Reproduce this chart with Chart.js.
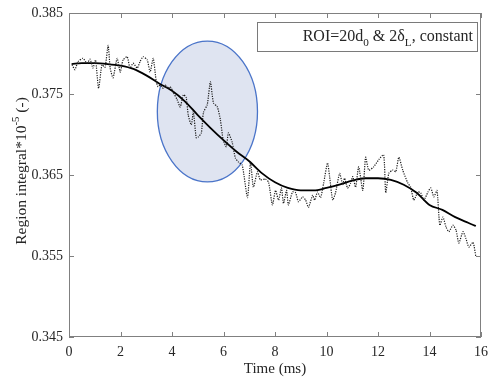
<!DOCTYPE html>
<html>
<head>
<meta charset="utf-8">
<script src="https://cdn.jsdelivr.net/npm/chart.js@4.4.1/dist/chart.umd.min.js"></script>
<style>
  html, body { margin: 0; padding: 0; background: #fff; }
</style>
</head>
<body>
<canvas id="roiChart" width="488" height="383"></canvas>
<script>
// raw (dotted) signal
const noisyTime = [0.12, 0.23, 0.35, 0.54, 0.70, 0.82, 0.93, 1.03, 1.15, 1.28, 1.40, 1.52, 1.60, 1.71, 1.87, 1.99,
  2.10, 2.26, 2.37, 2.49, 2.65, 2.76, 2.88, 3.04, 3.15, 3.27, 3.39, 3.46, 3.54, 3.66, 3.74, 3.85, 3.93, 4.05,
  4.20, 4.32, 4.44, 4.55, 4.63, 4.75, 4.83, 4.94, 5.02, 5.14, 5.22, 5.37, 5.49, 5.61, 5.76, 5.88, 5.99, 6.11,
  6.19, 6.34, 6.46, 6.58, 6.73, 6.93, 7.05, 7.16, 7.32, 7.43, 7.63, 7.75, 7.90, 8.02, 8.14, 8.25, 8.33, 8.45,
  8.52, 8.68, 8.80, 8.91, 9.07, 9.19, 9.30, 9.46, 9.54, 9.65, 9.77, 9.89, 10.04, 10.12, 10.24, 10.35, 10.51,
  10.63, 10.70, 10.82, 10.94, 11.02, 11.13, 11.25, 11.41, 11.52, 11.64, 11.83, 12.03, 12.22, 12.30, 12.42,
  12.57, 12.69, 12.81, 12.96, 13.16, 13.27, 13.39, 13.55, 13.66, 13.78, 13.94, 14.05, 14.17, 14.29, 14.40,
  14.52, 14.64, 14.75, 14.91, 15.03, 15.14, 15.30, 15.41, 15.53, 15.69, 15.80];
const noisyValue = [0.3786, 0.3780, 0.3790, 0.3794, 0.3788, 0.3793, 0.3782, 0.3792, 0.3757, 0.3786, 0.3783, 0.3810,
  0.3782, 0.3770, 0.3794, 0.3777, 0.3792, 0.3796, 0.3782, 0.3788, 0.3782, 0.3790, 0.3796, 0.3792, 0.3777,
  0.3794, 0.3765, 0.3759, 0.3761, 0.3757, 0.3761, 0.3757, 0.3759, 0.3752, 0.3743, 0.3734, 0.3749, 0.3746,
  0.3724, 0.3712, 0.3728, 0.3696, 0.3697, 0.3702, 0.3727, 0.3737, 0.3765, 0.3739, 0.3734, 0.3718, 0.3693,
  0.3685, 0.3702, 0.3690, 0.3671, 0.3666, 0.3662, 0.3622, 0.3666, 0.3635, 0.3654, 0.3644, 0.3645, 0.3641,
  0.3613, 0.3631, 0.3619, 0.3634, 0.3615, 0.3631, 0.3613, 0.3629, 0.3628, 0.3617, 0.3623, 0.3619, 0.3610,
  0.3625, 0.3619, 0.3629, 0.3622, 0.3640, 0.3665, 0.3648, 0.3619, 0.3628, 0.3652, 0.3638, 0.3646, 0.3634,
  0.3640, 0.3648, 0.3635, 0.3660, 0.3631, 0.3672, 0.3656, 0.3660, 0.3669, 0.3675, 0.3628, 0.3652, 0.3656,
  0.3654, 0.3672, 0.3656, 0.3640, 0.3635, 0.3619, 0.3629, 0.3628, 0.3619, 0.3629, 0.3634, 0.3623, 0.3631,
  0.3588, 0.3598, 0.3586, 0.3580, 0.3588, 0.3582, 0.3566, 0.3580, 0.3572, 0.3561, 0.3567, 0.3549];

// smoothed (solid) signal
const smoothTime = [0.1, 0.5, 1.0, 1.5, 2.0, 2.5, 3.0, 3.5, 4.0, 4.5, 5.0, 5.5, 6.0, 6.5, 7.0, 7.5, 8.0, 8.5,
  9.0, 9.5, 10.0, 10.5, 11.0, 11.5, 12.0, 12.5, 13.0, 13.5, 14.0, 14.5, 15.0, 15.5, 15.8];
const smoothValue = [0.3787, 0.3788, 0.3788, 0.3787, 0.3785, 0.3781, 0.3773, 0.3763, 0.3754, 0.3741, 0.3724,
  0.3708, 0.3693, 0.3679, 0.3667, 0.3652, 0.3641, 0.3634, 0.3631, 0.3631, 0.3634, 0.3638, 0.3643, 0.3646,
  0.3646, 0.3644, 0.3638, 0.3628, 0.3613, 0.3607, 0.3598, 0.3591, 0.3587];

const timeTicks = [0, 2, 4, 6, 8, 10, 12, 14, 16];
const valueTicks = [0.345, 0.355, 0.365, 0.375, 0.385];

// highlighted region (data units)
const roiRegion = { xMin: 3.43, xMax: 7.32, yMin: 0.36414, yMax: 0.38154 };

const SERIF = '"Liberation Serif", "Times New Roman", serif';
const INK = '#262626';
const AXIS = '#808080';

function drawRich(ctx, parts, x, y, size, align) {
  let w = 0;
  parts.forEach(p => {
    ctx.font = (p.sub || p.sup ? size * 0.7 : size) + 'px ' + SERIF;
    p.w = ctx.measureText(p.t).width;
    w += p.w;
  });
  let cx = align === 'right' ? x - w : align === 'center' ? x - w / 2 : x;
  ctx.textAlign = 'left';
  ctx.textBaseline = 'alphabetic';
  parts.forEach(p => {
    ctx.font = (p.sub || p.sup ? size * 0.7 : size) + 'px ' + SERIF;
    const dy = p.sub ? size * 0.3 : p.sup ? -size * 0.42 : 0;
    ctx.fillText(p.t, cx, y + dy);
    cx += p.w;
  });
}

const framePlugin = {
  id: 'frame',
  beforeDatasetsDraw(chart) {
    const { ctx } = chart;
    const xs = chart.scales.x, ys = chart.scales.y;
    const x0 = xs.getPixelForValue(roiRegion.xMin), x1 = xs.getPixelForValue(roiRegion.xMax);
    const y0 = ys.getPixelForValue(roiRegion.yMax), y1 = ys.getPixelForValue(roiRegion.yMin);
    ctx.save();
    ctx.beginPath();
    ctx.ellipse((x0 + x1) / 2, (y0 + y1) / 2, (x1 - x0) / 2, (y1 - y0) / 2, 0, 0, Math.PI * 2);
    ctx.fillStyle = '#dfe4f1';
    ctx.fill();
    ctx.strokeStyle = '#4a74c9';
    ctx.lineWidth = 1.3;
    ctx.stroke();
    ctx.restore();
  },
  afterDraw(chart) {
    const { ctx, chartArea: a } = chart;
    const xs = chart.scales.x, ys = chart.scales.y;
    ctx.save();
    // box
    ctx.strokeStyle = AXIS;
    ctx.lineWidth = 1;
    ctx.strokeRect(a.left + 0.5, a.top + 0.5, a.right - a.left - 1, a.bottom - a.top - 1);
    // inward ticks
    ctx.beginPath();
    timeTicks.forEach(t => {
      const px = Math.round(xs.getPixelForValue(t)) + 0.5;
      ctx.moveTo(px, a.bottom); ctx.lineTo(px, a.bottom - 5);
      ctx.moveTo(px, a.top); ctx.lineTo(px, a.top + 5);
    });
    valueTicks.forEach(v => {
      const py = Math.round(ys.getPixelForValue(v)) + 0.5;
      ctx.moveTo(a.left, py); ctx.lineTo(a.left + 5, py);
      ctx.moveTo(a.right, py); ctx.lineTo(a.right - 5, py);
    });
    ctx.stroke();

    // legend box
    const bx1 = a.right - 4, bx0 = bx1 - 220, by0 = a.top + 9, by1 = by0 + 29;
    ctx.fillStyle = '#fff';
    ctx.fillRect(bx0, by0, bx1 - bx0, by1 - by0);
    ctx.strokeStyle = '#7a7a7a';
    ctx.strokeRect(bx0 + 0.5, by0 + 0.5, bx1 - bx0, by1 - by0);
    ctx.fillStyle = INK;
    drawRich(ctx, [
      { t: 'ROI=20d' }, { t: '0', sub: true }, { t: ' & 2δ' }, { t: 'L', sub: true }, { t: ', constant' }
    ], bx1 - 4, by0 + 19, 16, 'right');

    // y axis title
    ctx.translate(21, (a.top + a.bottom) / 2 - 4);
    ctx.rotate(-Math.PI / 2);
    drawRich(ctx, [
      { t: 'Region integral*10' }, { t: '-5', sup: true }, { t: ' (-)' }
    ], 0, 5, 15.5, 'center');
    ctx.restore();
  }
};

const ctx = document.getElementById('roiChart').getContext('2d');
new Chart(ctx, {
  type: 'line',
  data: {
    datasets: [{
      label: 'raw',
      data: noisyTime.map((t, i) => ({ x: t, y: noisyValue[i] })),
      borderColor: '#1a1a1a',
      borderWidth: 1.2,
      borderDash: [1.2, 1.2],
      pointRadius: 0,
      tension: 0.2,
      fill: false
    }, {
      label: 'smoothed',
      data: smoothTime.map((t, i) => ({ x: t, y: smoothValue[i] })),
      borderColor: '#000',
      borderWidth: 1.8,
      pointRadius: 0,
      cubicInterpolationMode: 'monotone',
      fill: false
    }]
  },
  options: {
    responsive: false,
    animation: false,
    devicePixelRatio: 1,
    layout: { padding: { left: 0, right: 7, top: 13, bottom: 0 } },
    plugins: { legend: { display: false }, tooltip: { enabled: false } },
    scales: {
      x: {
        type: 'linear',
        min: 0,
        max: 16,
        afterBuildTicks: s => { s.ticks = timeTicks.map(v => ({ value: v })); },
        afterFit: s => { s.height = 46; s.paddingLeft = 0; s.paddingRight = 0; },
        grid: { display: false, drawTicks: false },
        border: { display: false },
        ticks: { padding: 7, maxRotation: 0, color: INK, font: { family: SERIF, size: 14 } },
        title: {
          display: true,
          text: 'Time (ms)',
          color: INK,
          font: { family: SERIF, size: 15 },
          padding: { top: 0, bottom: 5 }
        }
      },
      y: {
        min: 0.345,
        max: 0.385,
        afterBuildTicks: s => { s.ticks = valueTicks.map(v => ({ value: v })); },
        afterFit: s => { s.width = 69; s.paddingTop = 0; s.paddingBottom = 0; },
        grid: { display: false, drawTicks: false },
        border: { display: false },
        ticks: {
          padding: 6,
          color: INK,
          font: { family: SERIF, size: 14 },
          callback: v => v.toFixed(3)
        }
      }
    }
  },
  plugins: [framePlugin]
});
</script>
</body>
</html>
